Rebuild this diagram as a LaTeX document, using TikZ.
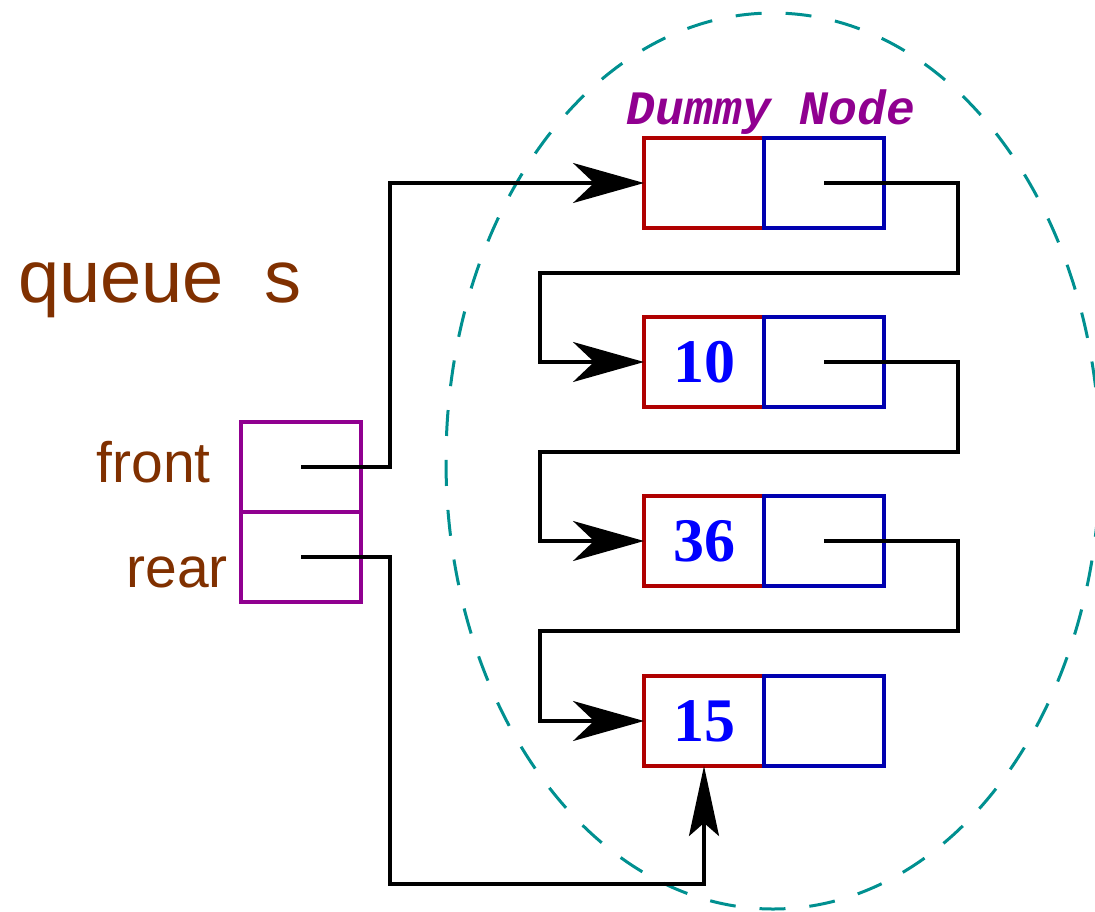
\documentclass[tikz,border=0pt]{standalone}
\usepackage{fontspec}
\setmainfont{Liberation Sans}
\newfontfamily\timesfont{Liberation Serif}
\newfontfamily\courfont{Liberation Mono}
\usetikzlibrary{arrows.meta,calc}
\definecolor{fbrown}{RGB}{128,48,0}
\definecolor{fred}{RGB}{176,0,0}
\definecolor{fblue}{RGB}{0,0,176}
\definecolor{fpurple}{RGB}{144,0,144}
\definecolor{fteal}{RGB}{0,144,144}
\definecolor{nblue}{RGB}{0,0,255}
\tikzset{
  cell/.style={draw, line width=3.2pt, minimum width=120pt, minimum height=90pt, inner sep=0pt, outer sep=0pt},
  datacell/.style={cell, draw=fred, text=nblue, font=\timesfont\bfseries\fontsize{62}{64}\selectfont},
  ptrcell/.style={cell, draw=fblue},
  qcell/.style={cell, draw=fpurple},
  lbl/.style={text=fbrown, inner sep=0pt, font=\fontsize{57}{60}\selectfont},
  link/.style={line width=3.2pt, -{Stealth[length=71pt,width=40pt,inset=21pt]}},
  uplink/.style={line width=3.2pt, -{Stealth[length=70pt,width=30pt,inset=13pt]}},
  ring/.style={draw=fteal, line width=3pt, dash pattern=on 26pt off 24pt}
}
\begin{document}
\begin{tikzpicture}[x=1pt,y=-1pt]
\useasboundingbox (0,0) rectangle (1095,911);
\clip (0,0) rectangle (1095,911);
\draw[ring] (773,461) ellipse [x radius=327, y radius=448];

\node[anchor=base west, text=fbrown, inner sep=0pt, font=\fontsize{74}{76}\selectfont] (title) at (18,302) {queue\ \ s};
\node[anchor=base, text=fpurple, inner sep=0pt, font=\courfont\bfseries\itshape\fontsize{48}{50}\selectfont] (dummy) at (771,124) {Dummy Node};

\node[qcell] (qf) at (301,467) {};
\node[qcell] (qr) at (301,557) {};
\node[lbl, anchor=base east] (lf) at (211,482) {front};
\node[lbl, anchor=base east] (lr) at (228,587) {rear};

\node[datacell] (d0) at (704,183) {};
\node[ptrcell]  (p0) at (824,183) {};
\node[datacell] (d1) at (704,362) {10};
\node[ptrcell]  (p1) at (824,362) {};
\node[datacell] (d2) at (704,541) {36};
\node[ptrcell]  (p2) at (824,541) {};
\node[datacell] (d3) at (704,721) {15};
\node[ptrcell]  (p3) at (824,721) {};

\draw[link] (qf.center) -- (390,467) |- (d0.west);
\draw[uplink] (qr.center) -- (390,557) -- (390,884) -| (d3.south);
\draw[link] (p0.center) -| (958,273) -| (540,362) -- (d1.west);
\draw[link] (p1.center) -| (958,452) -| (540,541) -- (d2.west);
\draw[link] (p2.center) -| (958,631) -| (540,721) -- (d3.west);
\end{tikzpicture}
\end{document}
